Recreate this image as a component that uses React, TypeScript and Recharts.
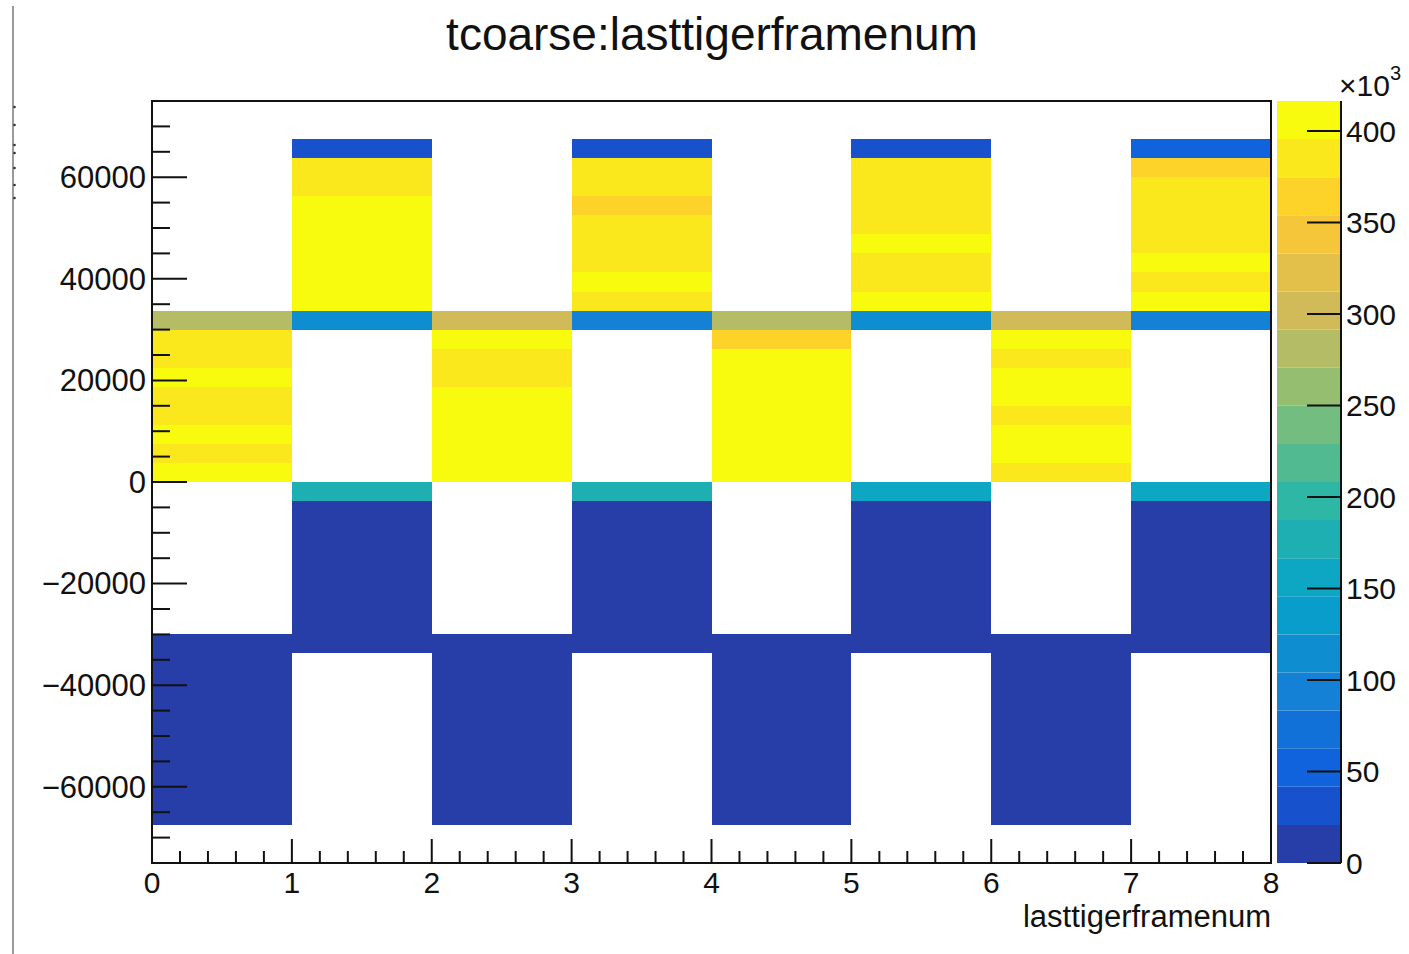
import React from 'react';
import { ComposedChart, BarChart, Bar, XAxis, YAxis, ReferenceArea } from 'recharts';

const FONT = '"Liberation Sans", Arial, Helvetica, sans-serif';
const INK = '#111';

// ---- binning of the 2D histogram ----
// x: lasttigerframenum, 8 bins of width 1
const X_BIN_EDGES = [0, 1, 2, 3, 4, 5, 6, 7, 8];
// y: tcoarse, 36 filled-range bins of 3750 starting at -67500
const Y_FIRST_EDGE = -67500;
const Y_BIN_WIDTH = 3750;
const X_RANGE: [number, number] = [0, 8];
const Y_RANGE: [number, number] = [-75000, 75000];

// ---- bin contents, one array per lasttigerframenum bin, from tcoarse = -67500 upward (0 = empty) ----
const COL_0 = [10850, 11020, 10930, 11180, 10760, 11090, 10980, 11240, 10870, 11130,
  0, 0, 0, 0, 0, 0, 0, 0,
  403900, 387200, 399600, 389400, 385100, 401800, 392300, 383600,
  283900,
  0, 0, 0, 0, 0, 0, 0, 0, 0];
const COL_1 = [0, 0, 0, 0, 0, 0, 0, 0, 0,
  12640, 12480, 12710, 12390, 12580, 12820, 12460, 12690,
  177400,
  0, 0, 0, 0, 0, 0, 0, 0,
  112800,
  405300, 409800, 416400, 411200, 407600, 402300,
  391800, 386400,
  31600];
const COL_2 = [11260, 11080, 11340, 10990, 11170, 11420, 11050, 11230, 11110, 11380,
  0, 0, 0, 0, 0, 0, 0, 0,
  404600, 400800, 406900, 398700, 402500, 389900, 384700, 397800,
  302100,
  0, 0, 0, 0, 0, 0, 0, 0, 0];
const COL_3 = [0, 0, 0, 0, 0, 0, 0, 0, 0,
  12380, 12570, 12260, 12640, 12450, 12330, 12710, 12520,
  176200,
  0, 0, 0, 0, 0, 0, 0, 0,
  94600,
  388700, 398400, 390600, 385900, 382400, 366300,
  383800, 389200,
  32900];
const COL_4 = [11070, 11290, 10940, 11160, 11350, 11020, 11210, 10880, 11300, 11140,
  0, 0, 0, 0, 0, 0, 0, 0,
  401100, 405700, 399300, 403800, 408900, 400500, 397600, 364900,
  280700,
  0, 0, 0, 0, 0, 0, 0, 0, 0];
const COL_5 = [0, 0, 0, 0, 0, 0, 0, 0, 0,
  12550, 12300, 12680, 12420, 12610, 12360, 12490, 12740,
  156900,
  0, 0, 0, 0, 0, 0, 0, 0,
  113900,
  400200, 387600, 383100, 397100, 389700, 386300,
  391400, 384900,
  32300];
const COL_6 = [11190, 10970, 11320, 11060, 11250, 10910, 11370, 11100, 11210, 11030,
  0, 0, 0, 0, 0, 0, 0, 0,
  386800, 400900, 404300, 388100, 399400, 402700, 384500, 398600,
  299800,
  0, 0, 0, 0, 0, 0, 0, 0, 0];
const COL_7 = [0, 0, 0, 0, 0, 0, 0, 0, 0,
  12470, 12650, 12310, 12580, 12720, 12400, 12530, 12360,
  155600,
  0, 0, 0, 0, 0, 0, 0, 0,
  93300,
  399900, 386100, 396800, 385400, 390800, 387900,
  382700, 367400,
  52100];

const COLUMNS = [COL_0, COL_1, COL_2, COL_3, COL_4, COL_5, COL_6, COL_7];

// ---- axis ticks ----
const X_MAJOR_TICKS = [0, 1, 2, 3, 4, 5, 6, 7, 8];
const X_MINOR_DIVISIONS = 5;
const Y_MAJOR_TICKS = [-60000, -40000, -20000, 0, 20000, 40000, 60000];
const Y_MINOR_STEP = 5000;
const Z_TICKS = [0, 50000, 100000, 150000, 200000, 250000, 300000, 350000, 400000];

const X_TICKS: number[] = [];
for (let i = 0; i < X_MAJOR_TICKS.length - 1; i++) {
  for (let k = 0; k < X_MINOR_DIVISIONS; k++) X_TICKS.push(X_MAJOR_TICKS[i] + k / X_MINOR_DIVISIONS);
}
X_TICKS.push(X_MAJOR_TICKS[X_MAJOR_TICKS.length - 1]);

const Y_TICKS: number[] = [];
for (let v = Y_RANGE[0] + Y_MINOR_STEP; v < Y_RANGE[1]; v += Y_MINOR_STEP) Y_TICKS.push(v);

// ---- kBird colour palette, 255 colours, 20 contour levels ----
const BIRD_STOPS = [0.0, 0.125, 0.25, 0.375, 0.5, 0.625, 0.75, 0.875, 1.0];
const BIRD_RED = [0.2082, 0.0592, 0.078, 0.0232, 0.1802, 0.5301, 0.8186, 0.9956, 0.9764];
const BIRD_GREEN = [0.1664, 0.3599, 0.5041, 0.6419, 0.7178, 0.7492, 0.7328, 0.7862, 0.9832];
const BIRD_BLUE = [0.5293, 0.8684, 0.8385, 0.7914, 0.6425, 0.4662, 0.3499, 0.1968, 0.0539];
const N_PALETTE = 255;
const N_CONTOURS = 20;

function birdColor(p: number): string {
  let s = 1;
  while (s < BIRD_STOPS.length - 1 && p > BIRD_STOPS[s]) s++;
  const t = (p - BIRD_STOPS[s - 1]) / (BIRD_STOPS[s] - BIRD_STOPS[s - 1]);
  const ch = (arr: number[]) => Math.round(255 * (arr[s - 1] + t * (arr[s] - arr[s - 1])));
  return `rgb(${ch(BIRD_RED)},${ch(BIRD_GREEN)},${ch(BIRD_BLUE)})`;
}

function contourColor(level: number): string {
  const idx = Math.min(Math.floor(((level + 0.99) * N_PALETTE) / N_CONTOURS), N_PALETTE - 1);
  return birdColor(idx / (N_PALETTE - 1));
}

const Z_MAX = Math.max(...COLUMNS.flat());

function valueColor(v: number): string {
  const level = Math.min(N_CONTOURS - 1, Math.floor((v / Z_MAX) * N_CONTOURS));
  return contourColor(level);
}

const CELLS = COLUMNS.flatMap((col, i) =>
  col
    .map((v, b) => ({
      x0: X_BIN_EDGES[i],
      x1: X_BIN_EDGES[i + 1],
      y0: Y_FIRST_EDGE + b * Y_BIN_WIDTH,
      y1: Y_FIRST_EDGE + (b + 1) * Y_BIN_WIDTH,
      v,
    }))
    .filter((c) => c.v > 0)
);

const LEVELS = Array.from({ length: N_CONTOURS }, (_, i) => i);
const PALETTE_ROW: Record<string, number | string> = { name: 'z' };
LEVELS.forEach((i) => {
  PALETTE_ROW[`level${i}`] = Z_MAX / N_CONTOURS;
});

const fmtSigned = (v: number) => (v < 0 ? `\u2212${Math.abs(v)}` : `${v}`);

const CellRect = (p: any) => (
  <rect x={p.x} y={p.y} width={p.width} height={p.height} fill={p.fill} shapeRendering="crispEdges" />
);

const YTick = (props: any) => {
  const { x, y, payload } = props;
  const v = payload.value as number;
  const major = Y_MAJOR_TICKS.includes(v);
  return (
    <g>
      <line x1={x} y1={y} x2={x + (major ? 35 : 18)} y2={y} stroke={INK} strokeWidth={2} />
      {major && (
        <text x={x - 6} y={y} dy="0.35em" textAnchor="end" fontSize={31} fontFamily={FONT} fill={INK}>
          {fmtSigned(v)}
        </text>
      )}
    </g>
  );
};

const XTick = (props: any) => {
  const { x, y, payload } = props;
  const v = payload.value as number;
  const major = Number.isInteger(v);
  return (
    <g>
      <line x1={x} y1={y} x2={x} y2={y - (major ? 24 : 12)} stroke={INK} strokeWidth={2} />
      {major && (
        <text x={x} y={y + 30} textAnchor="middle" fontSize={30} fontFamily={FONT} fill={INK}>
          {v}
        </text>
      )}
    </g>
  );
};

const ZTick = (props: any) => {
  const { x, y, payload } = props;
  const v = payload.value as number;
  return (
    <g>
      <line x1={x} y1={y} x2={x - 34} y2={y} stroke={INK} strokeWidth={2} />
      <text x={x + 5} y={y} dy="0.35em" textAnchor="start" fontSize={30} fontFamily={FONT} fill={INK}>
        {v / 1000}
      </text>
    </g>
  );
};

const LEFT_EDGE_DOTS = [107, 125, 145, 153, 168, 185, 198];

export default function App() {
  return (
    <div
      style={{
        position: 'absolute',
        left: 0,
        top: 0,
        width: 1409,
        height: 954,
        background: '#fff',
        overflow: 'hidden',
        fontFamily: FONT,
      }}
    >
      <div style={{ position: 'absolute', left: 0, top: 0 }}>
        <ComposedChart width={1409} height={954} margin={{ top: 101, right: 138, bottom: 0, left: 0 }}>
          <XAxis
            type="number"
            dataKey="x"
            domain={X_RANGE}
            allowDataOverflow
            ticks={X_TICKS}
            interval={0}
            height={91}
            tickSize={0}
            tickMargin={0}
            tickLine={false}
            axisLine={{ stroke: INK, strokeWidth: 2 }}
            tick={<XTick />}
          />
          <YAxis
            type="number"
            dataKey="y"
            domain={Y_RANGE}
            allowDataOverflow
            ticks={Y_TICKS}
            interval={0}
            width={152}
            tickSize={0}
            tickMargin={0}
            tickLine={false}
            axisLine={{ stroke: INK, strokeWidth: 2 }}
            tick={<YTick />}
          />
          {CELLS.map((c, i) => (
            <ReferenceArea
              key={`cell-${i}`}
              x1={c.x0}
              x2={c.x1}
              y1={c.y0}
              y2={c.y1}
              fill={valueColor(c.v)}
              fillOpacity={1}
              stroke="none"
              ifOverflow="visible"
              shape={CellRect}
            />
          ))}
          <ReferenceArea
            x1={X_RANGE[0]}
            x2={X_RANGE[1]}
            y1={Y_RANGE[0]}
            y2={Y_RANGE[1]}
            fill="none"
            fillOpacity={0}
            stroke={INK}
            strokeWidth={2}
            ifOverflow="visible"
          />
        </ComposedChart>
      </div>

      <div style={{ position: 'absolute', left: 1277, top: 0 }}>
        <BarChart
          width={132}
          height={954}
          data={[PALETTE_ROW]}
          margin={{ top: 101, right: 0, bottom: 91, left: 0 }}
          barCategoryGap={0}
          barGap={0}
        >
          <XAxis dataKey="name" hide />
          <YAxis
            orientation="right"
            type="number"
            domain={[0, Z_MAX]}
            allowDataOverflow
            ticks={Z_TICKS}
            interval={0}
            width={68}
            tickSize={0}
            tickMargin={0}
            tickLine={false}
            axisLine={{ stroke: INK, strokeWidth: 2 }}
            tick={<ZTick />}
          />
          {LEVELS.map((i) => (
            <Bar
              key={`level${i}`}
              dataKey={`level${i}`}
              stackId="palette"
              fill={contourColor(i)}
              isAnimationActive={false}
            />
          ))}
        </BarChart>
      </div>

      <svg
        width={1409}
        height={954}
        style={{ position: 'absolute', left: 0, top: 0, pointerEvents: 'none' }}
      >
        <line x1={13} y1={6} x2={13} y2={954} stroke="#9a9a9a" strokeWidth={2} />
        {LEFT_EDGE_DOTS.map((y) => (
          <circle key={y} cx={14.5} cy={y} r={1.3} fill="#333" />
        ))}
        <text x={712} y={50} textAnchor="middle" fontSize={46} fontFamily={FONT} fill={INK}>
          tcoarse:lasttigerframenum
        </text>
        <text x={1271} y={927} textAnchor="end" fontSize={31} fontFamily={FONT} fill={INK}>
          lasttigerframenum
        </text>
        <text x={1339} y={96} fontSize={30} fontFamily={FONT} fill={INK}>
          {'\u00d710'}
          <tspan fontSize={20} dy={-16}>
            3
          </tspan>
        </text>
      </svg>
    </div>
  );
}
